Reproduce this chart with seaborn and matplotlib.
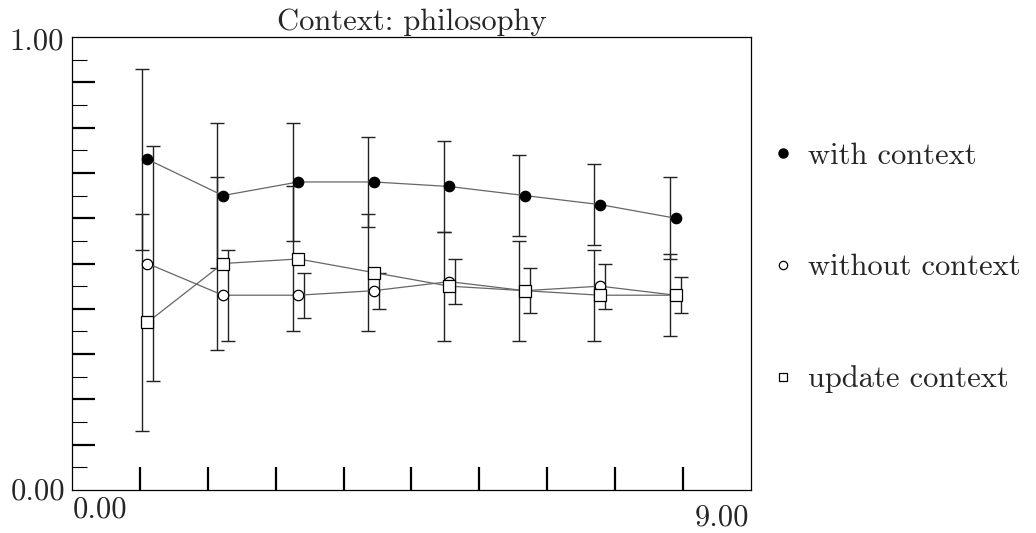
import numpy as np
import pandas as pd
import matplotlib
matplotlib.use("Agg")
import matplotlib.pyplot as plt
import seaborn as sns
from matplotlib.lines import Line2D

# values
steps = [1, 2, 3, 4, 5, 6, 7, 8]
with_ctx = [0.73, 0.65, 0.68, 0.68, 0.67, 0.65, 0.63, 0.60]
with_err = [0.20, 0.16, 0.13, 0.10, 0.10, 0.09, 0.09, 0.09]
without_ctx = [0.50, 0.43, 0.43, 0.44, 0.46, 0.44, 0.45, 0.43]
without_err = [0.26, 0.10, 0.05, 0.04, 0.05, 0.05, 0.05, 0.04]
update_ctx = [0.37, 0.50, 0.51, 0.48, 0.45, 0.44, 0.43, 0.43]
update_err = [0.24, 0.19, 0.16, 0.13, 0.12, 0.11, 0.10, 0.09]
series_names = ["with context", "without context", "update context"]

sns.set_style("white")
plt.rcParams["font.family"] = ["cmr10", "DejaVu Serif"]
plt.rcParams["mathtext.fontset"] = "cm"
plt.rcParams["axes.unicode_minus"] = False

fig = plt.figure(figsize=(10.36, 5.33), dpi=100)
ax = fig.add_axes([72 / 1036, 1 - 490 / 533, 679 / 1036, 453 / 533])

# (values, errors, marker, face colour, errorbar offset)
styles = {
    "with context": (with_ctx, with_err, "o", "black", -0.075),
    "without context": (without_ctx, without_err, "o", "white", 0.07),
    "update context": (update_ctx, update_err, "s", "white", -0.075),
}

for name in series_names:
    vals, errs, mk, fc, off = styles[name]
    ax.errorbar(np.array(steps) + off, vals, yerr=errs, fmt="none",
                ecolor="#222222", elinewidth=1.0, capsize=5, capthick=1.0,
                zorder=1)
    sns.lineplot(x=steps, y=vals, ax=ax, color="#666666", linewidth=0.9,
                 marker=mk, markersize=7.5 if mk == "o" else 8,
                 markerfacecolor=fc, markeredgecolor="black",
                 markeredgewidth=0.9, zorder=3, legend=False)

ax.set_xlim(0, 9)
ax.set_ylim(0, 1)
ax.set_xlabel("")
ax.set_ylabel("")

for side in ["left", "right", "top", "bottom"]:
    ax.spines[side].set_visible(True)
    ax.spines[side].set_color("black")
    ax.spines[side].set_linewidth(0.9)

ax.set_xticks(np.linspace(0, 9, 11)[1:-1])
ax.set_yticks(np.linspace(0, 1, 11)[1:-1])
ax.set_yticks(np.linspace(0.05, 0.95, 10), minor=True)
ax.tick_params(axis="x", which="major", direction="in", length=16.5,
               width=1.6, color="black", labelbottom=False,
               bottom=True, top=False)
ax.tick_params(axis="y", which="major", direction="in", length=16.5,
               width=1.6, color="black", labelleft=False,
               left=True, right=False)
ax.tick_params(axis="y", which="minor", direction="in", length=11,
               width=0.8, color="black", left=True, right=False)

fs = 22
ax.annotate("1.00", xy=(0, 1), xycoords="axes fraction", xytext=(-8, -13),
            textcoords="offset pixels", ha="right", va="baseline", fontsize=fs)
ax.annotate("0.00", xy=(0, 0), xycoords="axes fraction", xytext=(-7, -10),
            textcoords="offset pixels", ha="right", va="baseline", fontsize=fs)
ax.annotate("0.00", xy=(0, 0), xycoords="axes fraction", xytext=(1, -27),
            textcoords="offset pixels", ha="left", va="baseline", fontsize=fs)
ax.annotate("9.00", xy=(1, 0), xycoords="axes fraction", xytext=(-2, -35),
            textcoords="offset pixels", ha="right", va="baseline", fontsize=fs)

ax.set_title("Context: philosophy", fontsize=fs, pad=5)

handles = [
    Line2D([], [], ls="none", marker="o", ms=6.5, mfc="black", mec="black"),
    Line2D([], [], ls="none", marker="o", ms=6, mfc="white", mec="black", mew=0.9),
    Line2D([], [], ls="none", marker="s", ms=6, mfc="white", mec="black", mew=0.9),
]
ax.legend(handles, series_names, loc="center left",
          bbox_to_anchor=(1.036, 0.49), frameon=False, fontsize=fs,
          borderaxespad=0, borderpad=0, handlelength=0.5,
          handletextpad=0.57, labelspacing=2.75)

fig.savefig("out.png", dpi=100)
